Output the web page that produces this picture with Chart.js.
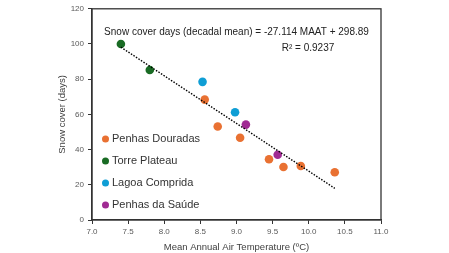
<!DOCTYPE html>
<html>
<head>
<meta charset="utf-8">
<script src="https://cdn.jsdelivr.net/npm/chart.js@4"></script>
<style>
  html, body { margin: 0; padding: 0; background: #fff; }
  #wrap { width: 449px; height: 253px; }
</style>
</head>
<body>
<div id="wrap"><canvas id="snowChart"></canvas></div>
<script>
// values
const seriesNames = ['Penhas Douradas', 'Torre Plateau', 'Lagoa Comprida', 'Penhas da Saúde'];
const seriesColors = ['#E97132', '#196B24', '#0F9ED5', '#A02B93'];

const penhasDouradasMaat = [8.56, 8.74, 9.05, 9.45, 9.65, 9.89, 10.36];
const penhasDouradasDays = [68.4, 53.1, 46.7, 34.5, 30.1, 30.7, 27.1];
const torrePlateauMaat = [7.4, 7.8];
const torrePlateauDays = [100, 85.2];
const lagoaCompridaMaat = [8.53, 8.98];
const lagoaCompridaDays = [78.5, 61.2];
const penhasSaudeMaat = [9.13, 9.57];
const penhasSaudeDays = [54.2, 37.1];

const trendMaat = [7.4, 10.36];
const trendDays = [98.2, 18.0];

const xTicks = [7.0, 7.5, 8.0, 8.5, 9.0, 9.5, 10.0, 10.5, 11.0];
const yTicks = [0, 20, 40, 60, 80, 100, 120];

const equationText = 'Snow cover days (decadal mean) = -27.114 MAAT + 298.89';
const r2Text = 'R² = 0.9237';

function toPoints(xs, ys) {
    return xs.map((x, i) => ({ x: x, y: ys[i] }));
}

const pointSets = [
    toPoints(penhasDouradasMaat, penhasDouradasDays),
    toPoints(torrePlateauMaat, torrePlateauDays),
    toPoints(lagoaCompridaMaat, lagoaCompridaDays),
    toPoints(penhasSaudeMaat, penhasSaudeDays)
];

const datasets = [{
    label: 'trend',
    data: toPoints(trendMaat, trendDays),
    showLine: true,
    borderColor: '#000',
    borderWidth: 1.4,
    borderDash: [1.5, 1.5],
    pointRadius: 0,
    fill: false
}];
pointSets.forEach((pts, i) => {
    datasets.push({
        label: seriesNames[i],
        data: pts,
        backgroundColor: seriesColors[i],
        borderColor: seriesColors[i],
        pointRadius: 4.3,
        pointBorderWidth: 0
    });
});

// box, legend and equation drawn over the chart area
const extrasPlugin = {
    id: 'extras',
    afterDatasetsDraw(chart) {
        const ctx = chart.ctx;
        const a = chart.chartArea;
        ctx.save();
        ctx.strokeStyle = '#333';
        ctx.lineWidth = 1.3;
        ctx.strokeRect(a.left, a.top, a.right - a.left, a.bottom - a.top);

        ctx.fillStyle = '#222';
        ctx.font = '10px "Liberation Sans", Arial, sans-serif';
        ctx.textBaseline = 'middle';
        ctx.textAlign = 'center';
        ctx.fillText(equationText, 236.5, 32);
        ctx.fillText(r2Text, 308, 48);

        ctx.textAlign = 'left';
        ctx.font = '11px "Liberation Sans", Arial, sans-serif';
        seriesNames.forEach((name, i) => {
            const y = a.bottom - 81 + i * 22;
            ctx.fillStyle = seriesColors[i];
            ctx.beginPath();
            ctx.arc(a.left + 13.5, y, 3.5, 0, Math.PI * 2);
            ctx.fill();
            ctx.fillStyle = '#333';
            ctx.fillText(name, a.left + 20, y);
        });
        ctx.restore();
    }
};

const ctx = document.getElementById('snowChart').getContext('2d');
new Chart(ctx, {
    type: 'scatter',
    data: { datasets: datasets },
    options: {
        responsive: true,
        maintainAspectRatio: false,
        animation: false,
        layout: { padding: { top: 7, right: 68, left: 58, bottom: 0 } },
        plugins: {
            legend: { display: false },
            tooltip: { enabled: false }
        },
        scales: {
            x: {
                type: 'linear',
                min: 7,
                max: 11,
                afterBuildTicks: scale => { scale.ticks = xTicks.map(v => ({ value: v })); },
                afterFit: scale => { scale.height = 33; },
                ticks: {
                    color: '#595959',
                    font: { size: 8, family: '"Liberation Sans", Arial' },
                    padding: 3,
                    callback: v => v.toFixed(1)
                },
                grid: { drawOnChartArea: false, drawTicks: true, tickLength: 4, color: '#333' },
                border: { color: '#333', width: 1.3 },
                title: {
                    display: true,
                    text: 'Mean Annual Air Temperature (ºC)',
                    color: '#404040',
                    font: { size: 9.5, family: '"Liberation Sans", Arial' },
                    padding: { top: 5, bottom: 0 }
                }
            },
            y: {
                min: 0,
                max: 120,
                afterBuildTicks: scale => { scale.ticks = yTicks.map(v => ({ value: v })); },
                afterFit: scale => { scale.width = 34; },
                ticks: {
                    color: '#595959',
                    font: { size: 8, family: '"Liberation Sans", Arial' },
                    padding: 4
                },
                grid: { drawOnChartArea: false, drawTicks: true, tickLength: 4, color: '#333' },
                border: { color: '#333', width: 1.3 },
                title: {
                    display: true,
                    text: 'Snow cover (days)',
                    color: '#404040',
                    font: { size: 9.5, family: '"Liberation Sans", Arial' },
                    padding: { top: -1, bottom: 0 }
                }
            }
        }
    },
    plugins: [extrasPlugin]
});
</script>
</body>
</html>
